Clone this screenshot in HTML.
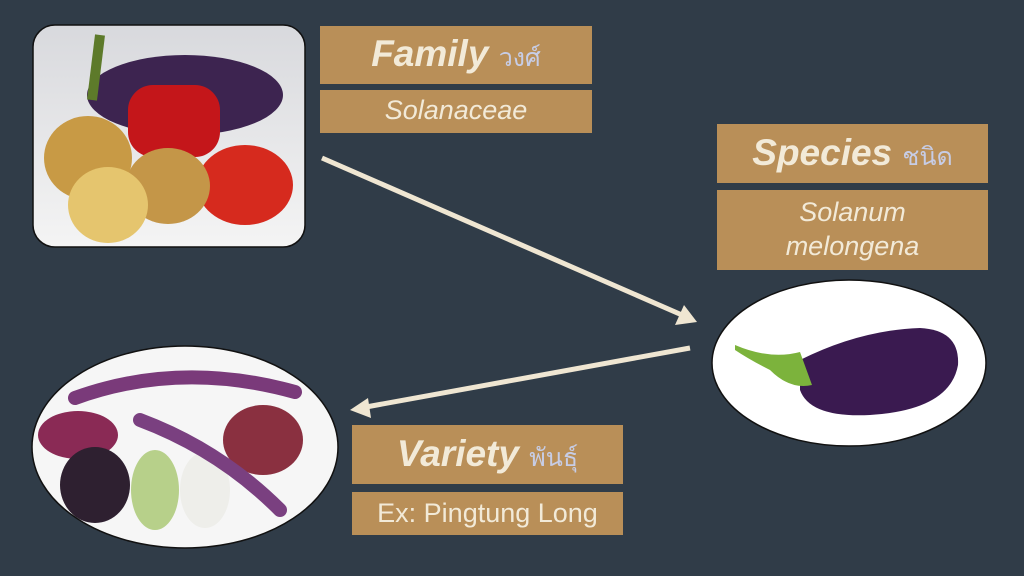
<!DOCTYPE html>
<html><head><meta charset="utf-8"><style>
body{margin:0;width:1024px;height:576px;background:#303c48;overflow:hidden;position:relative;font-family:"Liberation Sans","Noto Sans CJK SC",sans-serif}
.b{position:absolute;background:#b98f58;color:#f2ead8;text-align:center;box-sizing:border-box}
.t{font-weight:bold;font-style:italic;font-size:37px}
.t span{font-style:normal;font-weight:normal;font-size:25px;color:#c7cde6;font-family:"DejaVu Serif","Noto Serif CJK SC",serif}
.s{font-size:27px;font-style:italic;font-weight:300}
</style></head><body>
<svg width="1024" height="576" style="position:absolute;left:0;top:0">
<defs><linearGradient id="g" x1="0" y1="0" x2="0" y2="1"><stop offset="0" stop-color="#d8d9dd"/><stop offset="1" stop-color="#f4f4f4"/></linearGradient></defs>
<rect x="33" y="25" width="272" height="222" rx="22" fill="url(#g)" stroke="#111" stroke-width="1.5"/>
<ellipse cx="185" cy="95" rx="98" ry="40" fill="#3d2450"/>
<path d="M100 35 L92 100" stroke="#5d7a2a" stroke-width="10"/>
<rect x="128" y="85" width="92" height="72" rx="25" fill="#c4161a"/>
<ellipse cx="245" cy="185" rx="48" ry="40" fill="#d62a1e"/>
<ellipse cx="88" cy="158" rx="44" ry="42" fill="#c89a45"/>
<ellipse cx="168" cy="186" rx="42" ry="38" fill="#c49648"/>
<ellipse cx="108" cy="205" rx="40" ry="38" fill="#e5c56e"/>
<ellipse cx="849" cy="363" rx="137" ry="83" fill="#fff" stroke="#111" stroke-width="1.5"/>
<path d="M800 360 Q860 330 920 328 Q960 330 958 365 Q950 410 870 415 Q810 418 800 390Z" fill="#3a1a50"/>
<path d="M735 345 Q770 360 800 352 L812 385 Q790 390 770 370 Q750 360 735 350Z" fill="#7cb33c"/>
<ellipse cx="185" cy="447" rx="153" ry="101" fill="#f6f6f6" stroke="#111" stroke-width="1.5"/>
<path d="M75 398 Q180 360 295 392" stroke="#7a3a7a" stroke-width="14" fill="none" stroke-linecap="round"/>
<ellipse cx="78" cy="435" rx="40" ry="24" fill="#8a2a55"/>
<ellipse cx="95" cy="485" rx="35" ry="38" fill="#2e2030"/>
<ellipse cx="155" cy="490" rx="24" ry="40" fill="#b7d08a"/>
<ellipse cx="205" cy="490" rx="25" ry="38" fill="#eeeeea"/>
<ellipse cx="263" cy="440" rx="40" ry="35" fill="#8a3040"/>
<path d="M140 420 Q220 450 280 510" stroke="#7a4080" stroke-width="14" fill="none" stroke-linecap="round"/>
<g stroke="#efe6d2" stroke-width="5" fill="#efe6d2">
<line x1="322" y1="158" x2="682" y2="315"/>
<polygon points="697,322 675,325 684,305" stroke="none"/>
<line x1="690" y1="348" x2="366" y2="407"/>
<polygon points="350,410 368,398 371,418" stroke="none"/>
</g>
</svg>
<div class="b t" style="left:320px;top:26px;width:272px;height:58px;line-height:56px">Family <span>วงศ์</span></div>
<div class="b s" style="left:320px;top:90px;width:272px;height:43px;line-height:40px">Solanaceae</div>
<div class="b t" style="left:717px;top:124px;width:271px;height:59px;line-height:57px">Species <span>ชนิด</span></div>
<div class="b s" style="left:717px;top:190px;width:271px;height:80px;line-height:34px;padding-top:5px">Solanum<br>melongena</div>
<div class="b t" style="left:352px;top:425px;width:271px;height:59px;line-height:57px">Variety <span>พันธุ์</span></div>
<div class="b" style="left:352px;top:492px;width:271px;height:43px;line-height:42px;font-size:27px">Ex: Pingtung Long</div>
</body></html>
